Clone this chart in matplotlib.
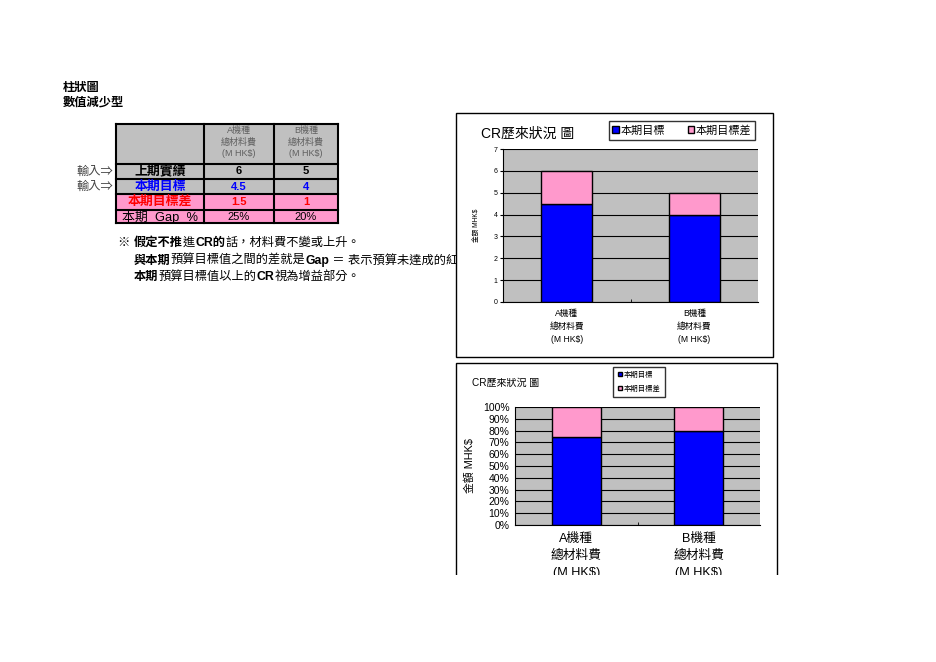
import matplotlib

matplotlib.use("Agg")

import matplotlib.pyplot as plt
from matplotlib import patches
from matplotlib.transforms import Bbox
import numpy as np

plt.rcParams["font.family"] = ["Liberation Sans", "Noto Sans CJK TC", "DejaVu Sans"]

W, H = 936, 662

BLUE = "#0000FF"
PINK = "#FF99CC"
GRAY = "#C0C0C0"

# data
categories = ["A機種\n總材料費\n(M HK$)", "B機種\n總材料費\n(M HK$)"]
row_labels = ["上期實績", "本期目標", "本期目標差", "本期  Gap  %"]
prev_actual = [6, 5]
target = [4.5, 4]
target_gap = [1.5, 1]
series_names = ["本期目標", "本期目標差"]

gap_pct = [g / p * 100 for g, p in zip(target_gap, prev_actual)]
target_pct = [t / p * 100 for t, p in zip(target, prev_actual)]


def fx(x):
    return x / W


def fy(y):
    return 1 - y / H


def rect(x0, y0, x1, y1):
    return [fx(x0), fy(y1), (x1 - x0) / W, (y1 - y0) / H]


def fmt(v):
    return f"{v:g}"


fig = plt.figure(figsize=(W / 100, H / 100), dpi=100, facecolor="white")
renderer = fig.canvas.get_renderer()


def seg_text(x, y, parts, size, zorder=3, clip_x=None):
    for s, bold in parts:
        t = fig.text(fx(x), fy(y), s, fontsize=size, fontweight="bold" if bold else "normal",
                     ha="left", va="center", color="black", zorder=zorder)
        if clip_x is not None:
            t.set_clip_box(Bbox([[0, 0], [clip_x, H]]))
            t.set_clip_on(True)
        x = t.get_window_extent(renderer=renderer).x1


# headings
fig.text(fx(63), fy(88), "柱狀圖", fontsize=8.8, fontweight="bold", va="center")
fig.text(fx(63), fy(103), "數值減少型", fontsize=8.8, fontweight="bold", va="center")

# table
col_x = [116, 204, 274, 338]
row_y = [124, 164, 179, 194, 210, 223]
row_bg = [GRAY, GRAY, GRAY, PINK, PINK]
for i in range(5):
    fig.patches.append(patches.Rectangle((fx(col_x[0]), fy(row_y[i + 1])), (col_x[-1] - col_x[0]) / W,
                                         (row_y[i + 1] - row_y[i]) / H, transform=fig.transFigure,
                                         facecolor=row_bg[i], edgecolor="none", zorder=1))
for yy in row_y:
    fig.add_artist(plt.Line2D([fx(col_x[0]), fx(col_x[-1])], [fy(yy), fy(yy)], color="black", lw=1.5, zorder=2))
for xx in col_x:
    fig.add_artist(plt.Line2D([fx(xx), fx(xx)], [fy(row_y[0]), fy(row_y[-1])], color="black", lw=1.5, zorder=2))

for j, cat in enumerate(categories):
    cx = (col_x[j + 1] + col_x[j + 2]) / 2
    fig.text(fx(cx), fy(142), cat, fontsize=6.5, color="#606060", ha="center", va="center", linespacing=1.4)

row_colors = ["black", BLUE, "#FF0000", "black"]
row_bold = [True, True, True, False]
row_values = [[fmt(v) for v in prev_actual], [fmt(v) for v in target], [fmt(v) for v in target_gap],
              [f"{v:.0f}%" for v in gap_pct]]
for i, lab in enumerate(row_labels):
    cy = (row_y[i + 1] + row_y[i + 2]) / 2
    w = "bold" if row_bold[i] else "normal"
    fig.text(fx((col_x[0] + col_x[1]) / 2), fy(cy), lab, fontsize=9.3, fontweight=w, color=row_colors[i],
             ha="center", va="center")
    for j, v in enumerate(row_values[i]):
        fig.text(fx((col_x[j + 1] + col_x[j + 2]) / 2), fy(cy), v, fontsize=8, fontweight=w,
                 color=row_colors[i], ha="center", va="center")

for cy in [171.5, 186.5]:
    fig.text(fx(113), fy(cy), "輸入⇒", fontsize=8.8, color="#444444", ha="right", va="center")

# note
seg_text(118, 243, [("※ ", False), ("假定不推", True), ("進", False), ("CR的", True),
                    ("話，材料費不變或上升。", False)], 8.8)
seg_text(134, 260.5, [("與本期", True), ("預算目標值之間的差就是", False), ("Gap", True),
                      (" ＝ 表示預算未達成的紅", False)], 8.8, clip_x=456)
seg_text(134, 277, [("本期", True), ("預算目標值以上的", False), ("CR", True), ("視為增益部分。", False)], 8.8)

# chart frames
fig.patches.append(patches.Rectangle((fx(456), fy(357)), (773 - 456) / W, (357 - 113) / H,
                                     transform=fig.transFigure, facecolor="white", edgecolor="black",
                                     lw=1, zorder=4))
fig.patches.append(patches.Rectangle((fx(456), fy(620)), (777 - 456) / W, (620 - 363) / H,
                                     transform=fig.transFigure, facecolor="white", edgecolor="black",
                                     lw=1, zorder=4))

x = np.arange(len(categories))

# chart 1: stacked values
ax1 = fig.add_axes(rect(503, 149, 758, 302), zorder=5)
ax1.set_facecolor(GRAY)
b1 = ax1.bar(x, target, 0.4, color=BLUE, edgecolor="black", lw=1, label=series_names[0])
b2 = ax1.bar(x, target_gap, 0.4, bottom=target, color=PINK, edgecolor="black", lw=1, label=series_names[1])
ax1.set_xlim(-0.5, 1.5)
ax1.set_ylim(0, 7)
ax1.set_yticks(range(0, 8))
ax1.grid(axis="y", color="black", lw=0.8)
ax1.set_axisbelow(True)
ax1.set_xticks(x)
ax1.set_xticklabels(categories, fontsize=6.2, linespacing=1.55)
ax1.set_xticks([0.5], minor=True)
ax1.tick_params(axis="x", which="major", length=0, pad=5)
ax1.tick_params(axis="x", which="minor", length=2, direction="in")
ax1.tick_params(axis="y", labelsize=5, length=2, pad=2)
for s in ["top", "right"]:
    ax1.spines[s].set_visible(False)
ax1.legend(handles=[b1, b2], ncol=2, loc="center", bbox_to_anchor=(fx(682), fy(130.5)),
           bbox_transform=fig.transFigure, fontsize=8, frameon=True, fancybox=False, edgecolor="black",
           handlelength=0.6, handleheight=0.6, handletextpad=0.15, columnspacing=2.0, borderpad=0.35,
           borderaxespad=0)
ax1.legend_.get_frame().set_linewidth(1)
fig.text(fx(481), fy(134), "CR歷來狀況 圖", fontsize=10, va="center", zorder=6)
fig.text(fx(476), fy(225), "金額 MHK$", fontsize=4.8, rotation=90, ha="center", va="center", zorder=6)

# chart 2: percent stacked
ax2 = fig.add_axes(rect(515, 407, 760, 525), zorder=5)
ax2.set_facecolor(GRAY)
c1 = ax2.bar(x, target_pct, 0.4, color=BLUE, edgecolor="black", lw=1, label=series_names[0])
c2 = ax2.bar(x, gap_pct, 0.4, bottom=target_pct, color=PINK, edgecolor="black", lw=1, label=series_names[1])
ax2.set_xlim(-0.5, 1.5)
ax2.set_ylim(0, 100)
ax2.set_yticks(range(0, 101, 10))
ax2.set_yticklabels([f"{v}%" for v in range(0, 101, 10)])
ax2.grid(axis="y", color="black", lw=0.8)
ax2.set_axisbelow(True)
ax2.set_xticks(x)
ax2.set_xticklabels(categories, fontsize=9.2, linespacing=1.5)
ax2.set_xticks([0.5], minor=True)
ax2.tick_params(axis="x", which="major", length=0, pad=6)
ax2.tick_params(axis="x", which="minor", length=2, direction="in")
ax2.tick_params(axis="y", labelsize=7.5, length=0, pad=4)
for s in ["top", "right"]:
    ax2.spines[s].set_visible(False)
ax2.legend(handles=[c1, c2], ncol=1, loc="center", bbox_to_anchor=(fx(639), fy(382)),
           bbox_transform=fig.transFigure, fontsize=5.3, frameon=True, fancybox=False, edgecolor="black",
           handlelength=0.6, handleheight=0.6, handletextpad=0.2, borderpad=0.6, labelspacing=0.9,
           borderaxespad=0)
ax2.legend_.get_frame().set_linewidth(1)
fig.text(fx(472), fy(383), "CR歷來狀況 圖", fontsize=7.2, va="center", zorder=6)
fig.text(fx(470), fy(466), "金額 MHK$", fontsize=7.8, rotation=90, ha="center", va="center", zorder=6)

# page cut-off below the second chart
fig.patches.append(patches.Rectangle((0, 0), 1, fy(575), transform=fig.transFigure,
                                     facecolor="white", edgecolor="none", zorder=10))

fig.savefig("out.png", dpi=100, facecolor="white")
